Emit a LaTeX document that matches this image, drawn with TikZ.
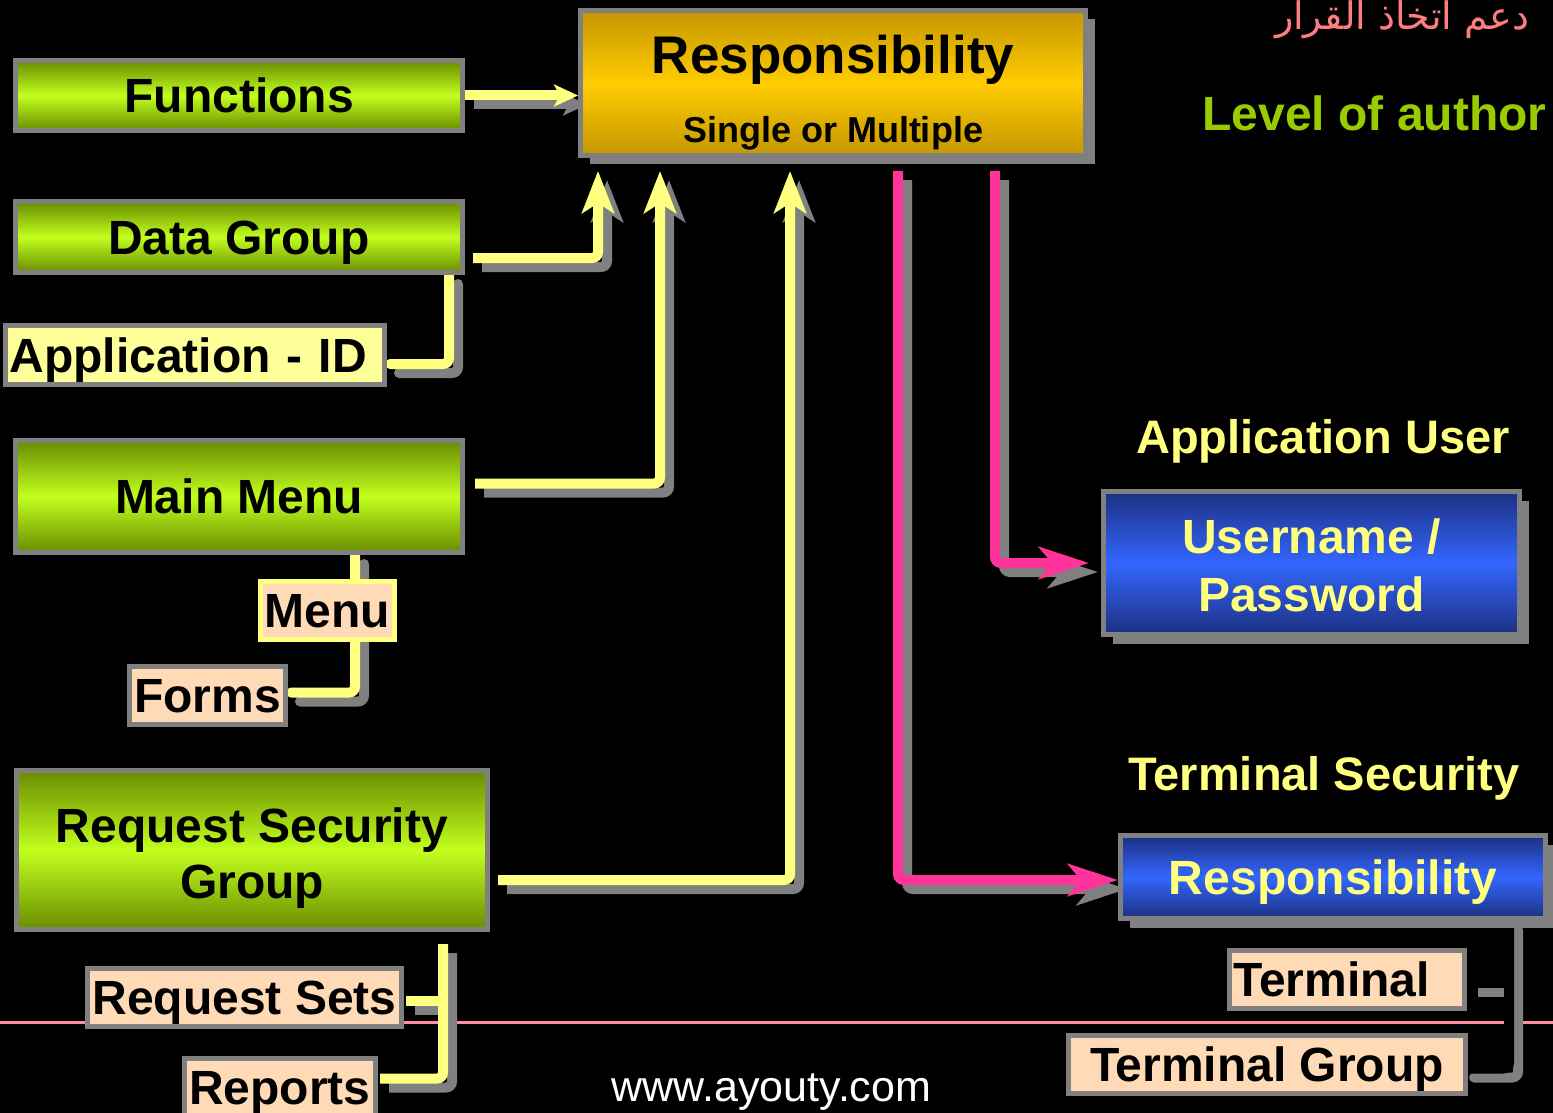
\documentclass[tikz,border=0pt]{standalone}
\usepackage{fontspec}
\setmainfont{Liberation Sans}
\newfontfamily\arabicfont[Script=Arabic]{DejaVu Sans}
\TeXXeTstate=1
\usetikzlibrary{arrows.meta,shadows}
\definecolor{LimeDark}{RGB}{105,140,0}
\definecolor{LimeLight}{RGB}{194,255,30}
\definecolor{GoldDark}{RGB}{196,150,0}
\definecolor{GoldLight}{RGB}{255,204,0}
\definecolor{BlueDark}{RGB}{28,48,128}
\definecolor{BlueLight}{RGB}{51,102,255}
\definecolor{Peach}{RGB}{255,218,182}
\definecolor{PaleYellow}{RGB}{255,255,153}
\definecolor{WireYellow}{RGB}{255,255,128}
\definecolor{WirePink}{RGB}{255,51,153}
\definecolor{FrameGray}{RGB}{128,128,128}
\definecolor{RulePink}{RGB}{255,140,160}
\definecolor{Salmon}{RGB}{255,124,128}
\definecolor{HeadGreen}{RGB}{153,204,0}
\pgfdeclarelayer{back}
\pgfsetlayers{back,main}
\newcommand\bxfont{\fontsize{48}{56}\selectfont\bfseries}

\begin{document}
\begin{tikzpicture}[x=1pt,y=-1pt,
    tbox/.style={draw=FrameGray,line width=5pt,inner sep=0pt,font=\bxfont},
    oneline/.style={text height=34pt,text depth=0pt},
    limebox/.style={tbox,top color=LimeDark,bottom color=LimeDark,middle color=LimeLight,minimum width=447pt},
    peachbox/.style={tbox,oneline,fill=Peach,minimum height=58pt},
    lifted/.style={drop shadow={shadow xshift=9pt,shadow yshift=-9pt,fill=FrameGray,opacity=1}},
    bluebox/.style={tbox,lifted,top color=BlueDark,bottom color=BlueDark,middle color=BlueLight,text=WireYellow},
    heading/.style={anchor=base,font=\fontsize{47}{56}\selectfont\bfseries},
    wire/.style={line width=10pt,rounded corners=6pt},
    ghost/.style={draw=FrameGray,transform canvas={shift={(9,9)}}},
    yline/.style={draw=WireYellow},
    pline/.style={draw=WirePink},
    kline/.style={draw=black},
    uptip/.style={-{Stealth[length=42pt,width=32pt,inset=10pt]}},
    sidetip/.style={-{Stealth[length=50pt,width=32pt,inset=13pt]}}]
  \useasboundingbox (0,0) rectangle (1553,1113);

  % left column
  \node[limebox,oneline,minimum height=70pt] (func) at (239,95.5) {Functions};
  \node[limebox,oneline,minimum height=71pt] (datagrp) at (239,237) {Data Group};
  \node[tbox,oneline,fill=PaleYellow,minimum width=379pt,minimum height=59pt,
        text width=371pt,align=left] (appid) at (195,355) {Application - ID};
  \node[limebox,oneline,minimum height=112pt] (mainmenu) at (239,496.5) {Main Menu};
  \node[peachbox,draw=WireYellow,minimum width=134pt] (menu) at (327.5,610.5) {Menu};
  \node[peachbox,minimum width=156pt] (forms) at (207.5,695.5) {Forms};
  \node[limebox,minimum width=471pt,minimum height=159pt,align=center]
       (rsg) at (252,850) {\rule{0pt}{50pt}Request Security\\Group};
  \node[peachbox,minimum width=314pt] (reqsets) at (244.5,997.5) {Request Sets};
  \node[peachbox,minimum width=191pt] (reports) at (280,1087.5) {Reports};

  % middle
  \node[tbox,lifted,top color=GoldDark,bottom color=GoldDark,middle color=GoldLight,
        minimum width=505pt,minimum height=145pt,align=center,
        font=\fontsize{53}{69}\selectfont\bfseries] (resp) at (833,83)
       {\rule{0pt}{57pt}Responsibility\\{\fontsize{36}{69}\selectfont Single or Multiple}};
  \node[anchor=base,text=white,font=\fontsize{43}{50}\selectfont] (web) at (771.5,1101) {www.ayouty.com};

  % right column
  \node[anchor=base east,text=Salmon,font=\fontsize{38}{46}\selectfont] (arabic) at (1533,30)
       {\arabicfont\beginR دعم اتخاذ القرار\endR};
  \node[heading,anchor=base east,text=HeadGreen,font=\fontsize{48}{56}\selectfont\bfseries] (level) at (1550,131) {Level of author};
  \node[heading,text=WireYellow] (appuser) at (1323,453) {Application User};
  \node[bluebox,minimum width=416pt,minimum height=143pt,align=center,
        font=\fontsize{48}{58}\selectfont\bfseries] (user) at (1311.5,563)
       {\rule{0pt}{39pt}Username /\\Password};
  \node[heading,text=WireYellow] (termsec) at (1324,790) {Terminal Security};
  \node[bluebox,oneline,minimum width=425pt,minimum height=83pt] (termresp) at (1333,877) {Responsibility};
  \node[peachbox,minimum width=235pt,text width=227pt,align=left] (terminal) at (1347,979.5) {Terminal};
  \node[peachbox,minimum width=397pt] (termgroup) at (1267,1064.5) {Terminal Group};

  % connector ends
  \coordinate (datain) at ([shift={(-235,13)}]resp.south);
  \coordinate (menuin) at ([shift={(-173,13)}]resp.south);
  \coordinate (rsgin) at ([shift={(-43,13)}]resp.south);
  \coordinate (termout) at ([shift={(65,13)}]resp.south);
  \coordinate (userout) at ([shift={(162,13)}]resp.south);
  \coordinate (rsgdrop) at ([shift={(-47,12)}]rsg.south east);
  \coordinate (termdrop) at ([xshift=-39]termresp.south east);

  \begin{pgfonlayer}{back}
    \fill[black] (0,0) rectangle (1553,1113);
    \draw[RulePink,line width=3pt] (0,1022) -- (1553,1022);
    \foreach \w in {ghost,yline} {
      \draw[wire,\w,-{Stealth[length=24pt,width=22pt,inset=6pt]}] (func.east) -- (func.east -| resp.west);
      \draw[wire,\w,uptip] ([shift={(8,21)}]datagrp.east) -| (datain);
      \draw[wire,\w,uptip] ([shift={(10,-13)}]mainmenu.east) -| (menuin);
      \draw[wire,\w,uptip] ([shift={(8,30)}]rsg.east) -| (rsgin);
      \draw[wire,\w,line cap=round] ([xshift=-16]datagrp.south east) |- ([shift={(3,9)}]appid.east);
      \draw[wire,\w,line cap=round] ([xshift=-110]mainmenu.south east) |- ([shift={(3,-3)}]forms.east);
      \draw[wire,\w] (rsgdrop) |- ([shift={(2,-9)}]reports.east);
      \draw[wire,\w] ([shift={(2,3)}]reqsets.east) -- ++(40,0);
    }
    \foreach \w in {ghost,pline} {
      \draw[wire,\w,sidetip] (userout) |- ([xshift=-12]user.west);
      \draw[wire,\w,sidetip] (termout) |- ([shift={(0,3)}]termresp.west);
    }
    \foreach \w in {ghost,kline} {
      \draw[wire,\w,line cap=round] (termdrop) |- ([shift={(-3,4)}]termgroup.east);
      \draw[wire,\w] ([shift={(2,3)}]terminal.east) -- ++(42,0);
    }
  \end{pgfonlayer}
\end{tikzpicture}
\end{document}
